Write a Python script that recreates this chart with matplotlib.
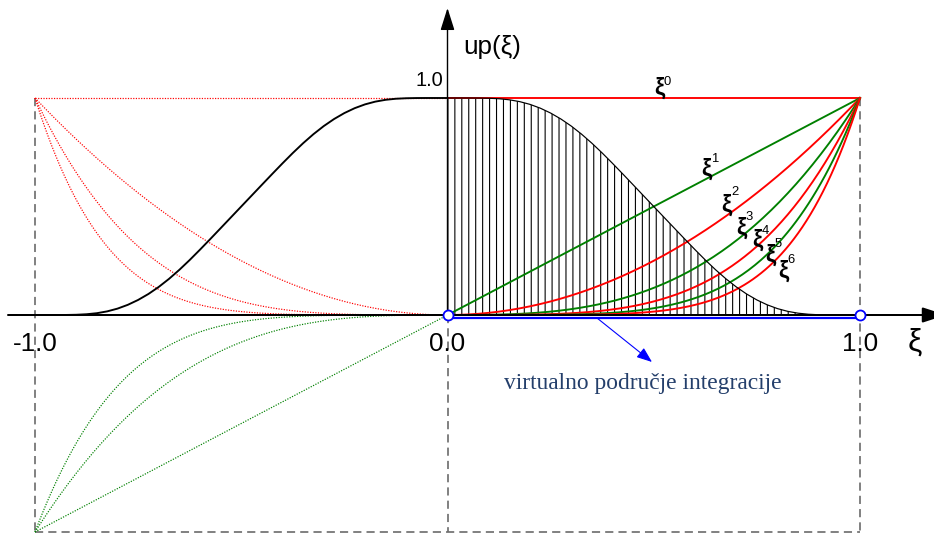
import numpy as np
import matplotlib
matplotlib.use('Agg')
import matplotlib.pyplot as plt

# ---------------- data ----------------
# up(xi) read from the picture on [0, 1] (symmetric: up(-x) = up(x))
up_x = [0.000, 0.025, 0.050, 0.075, 0.100, 0.125, 0.150, 0.175, 0.200, 0.225,
        0.250, 0.275, 0.300, 0.325, 0.350, 0.375, 0.400, 0.425, 0.450, 0.475,
        0.500, 0.525, 0.550, 0.575, 0.600, 0.625, 0.650, 0.675, 0.700, 0.725,
        0.750, 0.775, 0.800, 0.825, 0.850, 0.875, 0.900, 0.925, 0.950, 0.975, 1.000]
up_y = [1.0000, 1.0000, 1.0000, 0.9998, 0.9989, 0.9966, 0.9917, 0.9833, 0.9706, 0.9531,
        0.9306, 0.9031, 0.8706, 0.8333, 0.7917, 0.7466, 0.6989, 0.6498, 0.6000, 0.5500,
        0.5000, 0.4500, 0.4000, 0.3502, 0.3011, 0.2534, 0.2083, 0.1667, 0.1294, 0.0969,
        0.0694, 0.0469, 0.0294, 0.0167, 0.0083, 0.0035, 0.0011, 0.0002, 0.0000, 0.0000, 0.0000]

powers = [0, 1, 2, 3, 4, 5, 6]
power_colors = ['#ff0000', '#008000', '#ff0000', '#008000', '#ff0000', '#008000', '#ff0000']
power_sup = ['0', '1', '2', '3', '4', '5', '6']

tick_vals = [-1.0, 0.0, 1.0]
tick_labels = ['-1.0', '0.0', '1.0']
caption = 'virtualno područje integracije'

# ---------------- layout ----------------
DPI = 125
W, H = 934, 534
fig = plt.figure(figsize=(W / DPI, H / DPI), dpi=DPI)
ax = fig.add_axes([0, 0, 1, 1])
SX, X0 = 412.5, 447.5      # px per unit, px of xi=0
SY, Y0 = 217.0, 315.0
ax.set_xlim(-X0 / SX, (W - X0) / SX)
ax.set_ylim(-(H - Y0) / SY, Y0 / SY)
ax.axis('off')

def PT(px):
    return px * 72.0 / DPI

def fx(px):
    return px / W

def fy(py):
    return 1 - py / H

plt.rcParams['hatch.linewidth'] = PT(1.1)

gray = '#6e6e6e'
dash = (0, (4.8, 3.0))
# dashed frame
ax.plot([-1, -1], [1, -1], color=gray, lw=PT(1.7), ls=dash, zorder=1)
ax.plot([1, 1], [1, -1], color=gray, lw=PT(1.7), ls=dash, zorder=1)
ax.plot([0, 0], [0, -1], color=gray, lw=PT(1.7), ls=dash, zorder=1)
ax.plot([-1, 1], [-1, -1], color=gray, lw=PT(1.7), ls=dash, zorder=1)

# axes with arrows
xl, xr = (8 - X0) / SX, (946 - X0) / SX
ax.annotate('', xy=(xr, 0), xytext=(xl, 0),
            arrowprops=dict(arrowstyle='-|>,head_length=%f,head_width=%f' % (PT(20), PT(6.5)),
                            mutation_scale=1, lw=PT(2.0), color='black', shrinkA=0, shrinkB=0),
            annotation_clip=False, zorder=5)
yt = (Y0 - 8) / SY
ax.annotate('', xy=(0, yt), xytext=(0, 0),
            arrowprops=dict(arrowstyle='-|>,head_length=%f,head_width=%f' % (PT(19), PT(6)),
                            mutation_scale=1, lw=PT(1.4), color='black', shrinkA=0, shrinkB=0),
            annotation_clip=False, zorder=5)

# hatched area under up(xi) on [0,1]
ax.fill_between(up_x, 0, up_y, facecolor='none', edgecolor='black', hatch='|||',
                linewidth=0, zorder=2)

# up(xi) curves
left_x = [-v for v in up_x[::-1]]
left_y = up_y[::-1]
ax.plot(left_x, left_y, color='black', lw=PT(1.9), zorder=4, solid_capstyle='round')
ax.plot(up_x, up_y, color='black', lw=PT(1.2), zorder=4)

# power curves
xi_pos = np.linspace(0, 1, 201)
xi_neg = np.linspace(-1, 0, 201)
for n, c in zip(powers, power_colors):
    ax.plot(xi_pos, xi_pos ** n, color=c, lw=PT(1.9), zorder=3)
    ax.plot(xi_neg, xi_neg ** n, color=c, lw=PT(1.2), ls=(0, (1, 1.2)), zorder=3)

# blue integration segment
ax.plot([0, 1], [-2.7 / SY, -2.7 / SY], color='#0000ff', lw=PT(2.2), zorder=6)
ax.plot([0, 1], [0, 0], ls='none', marker='o', ms=PT(10), mfc='white', mec='#0000ff',
        mew=PT(1.8), zorder=7)
ax.annotate('', xy=((652 - X0) / SX, (Y0 - 362) / SY), xytext=((597 - X0) / SX, (Y0 - 318) / SY),
            arrowprops=dict(arrowstyle='-|>,head_length=%f,head_width=%f' % (PT(13), PT(5)),
                            mutation_scale=1, lw=PT(1.1), color='#0000ff', shrinkA=0, shrinkB=0),
            zorder=6)

# texts
sans = 'Liberation Sans'
fig.text(fx(463), fy(47), 'up(ξ)', family=sans, fontsize=PT(26), ha='left', va='center')
fig.text(fx(443), fy(81), '1.0', family=sans, fontsize=PT(20), ha='right', va='center')
for v, lab in zip(tick_vals, tick_labels):
    ax.text(v, (Y0 - 344) / SY, lab, family=sans, fontsize=PT(26), ha='center', va='center')
fig.text(fx(915), fy(343), 'ξ', family=sans, fontsize=PT(32), ha='center', va='center')
fig.text(fx(643), fy(384), caption, family='Liberation Serif', fontsize=PT(23.5),
         color='#243f6b', ha='center', va='center')

xi_center_px = [(659, 88), (706, 169), (726, 205), (741, 228), (757, 240), (770, 255), (783, 271)]
sup_center_px = [(667.5, 82), (714.5, 159), (734.5, 192), (749.5, 217), (765.5, 231), (778.5, 244), (791.5, 260)]
for (px, py), (sx, sy), s in zip(xi_center_px, sup_center_px, power_sup):
    fig.text(fx(px), fy(py), 'ξ', family=sans, fontweight='bold', fontsize=PT(23),
             ha='center', va='center', zorder=8)
    fig.text(fx(sx), fy(sy), s, family=sans, fontsize=PT(13), ha='center', va='center', zorder=8)

fig.savefig('out.png', dpi=DPI)
